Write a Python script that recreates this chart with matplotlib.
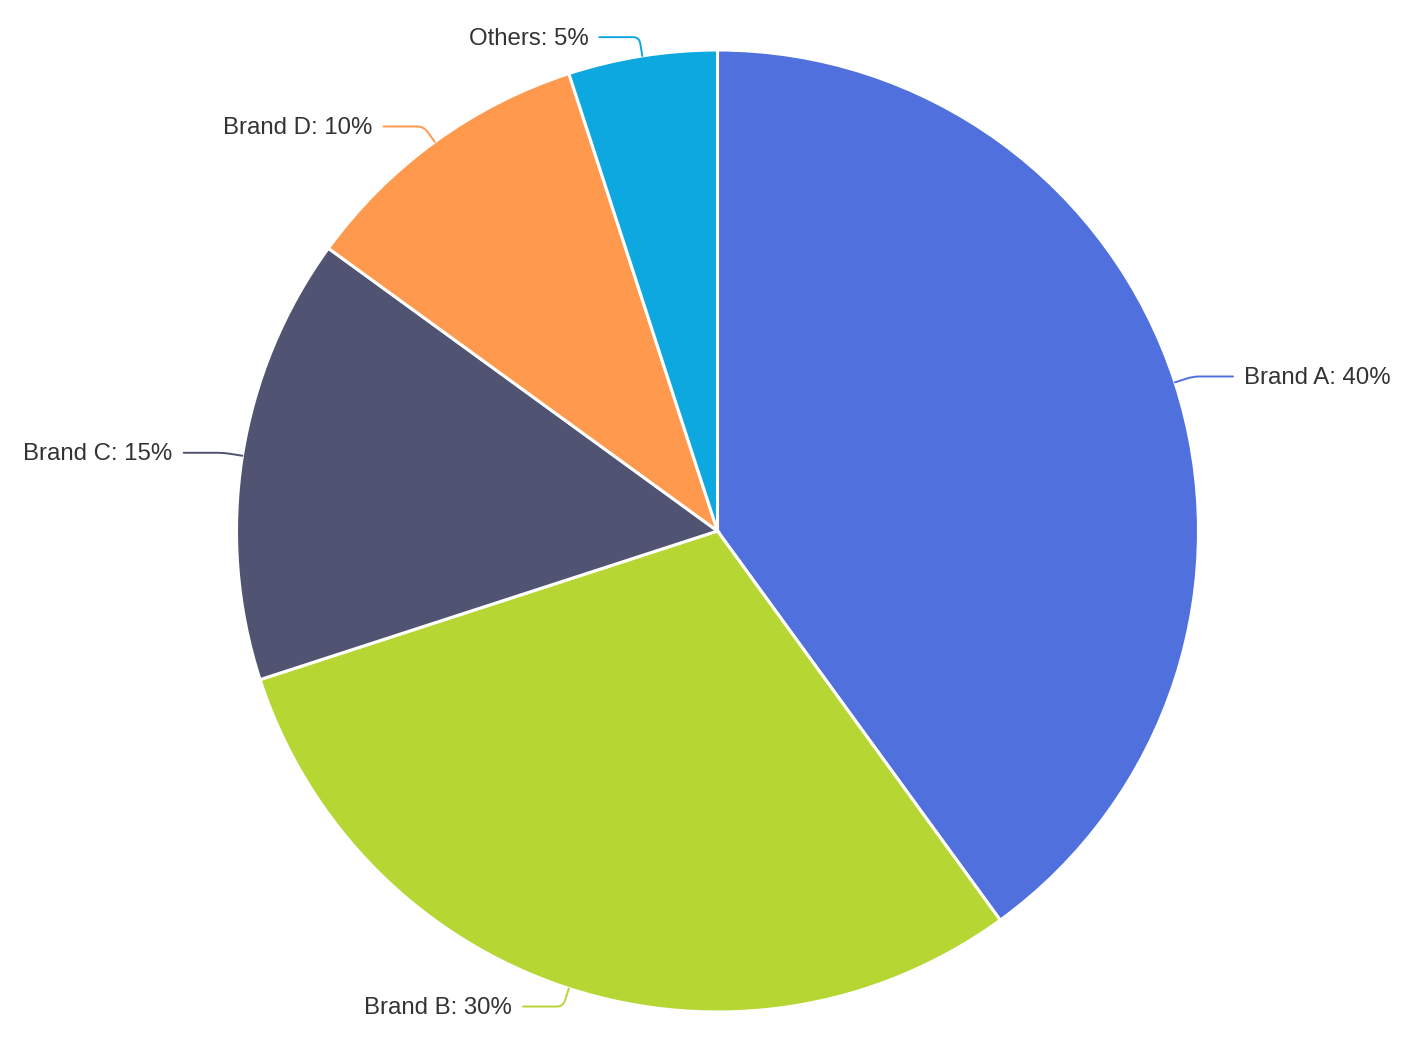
import numpy as np
import matplotlib.pyplot as plt
from matplotlib.path import Path
from matplotlib.patches import PathPatch

brands = ["Brand A", "Brand B", "Brand C", "Brand D", "Others"]
shares = [40, 30, 15, 10, 5]
colors = ["#5070dd", "#b6d634", "#505372", "#ff994d", "#0ca8df"]

W, H = 1418, 1041
fig = plt.figure(figsize=(W / 100, H / 100), dpi=100)
ax = fig.add_axes([0, 0, 1, 1])

cx, cy, r = 717.5, H - 531, 481
wedges, _ = ax.pie(shares, colors=colors, startangle=90, counterclock=False,
                   center=(cx, cy), radius=r, frame=True,
                   wedgeprops=dict(edgecolor="white", linewidth=2.2))
ax.set_xlim(0, W)
ax.set_ylim(0, H)
ax.set_aspect("equal")
ax.axis("off")

# leader lines + labels, echarts-ish
len1, len2, gap = 19, 40, 11
for w, name, val, col in zip(wedges, brands, shares, colors):
    mid = np.deg2rad((w.theta1 + w.theta2) / 2)
    dx, dy = np.cos(mid), np.sin(mid)
    p0 = (cx + r * dx, cy + r * dy)
    p1 = (cx + (r + len1) * dx, cy + (r + len1) * dy)
    s = 1 if dx >= 0 else -1
    p2 = (p1[0] + s * len2, p1[1])
    # small rounded elbow
    t = 0.35
    a = (p1[0] - (p1[0] - p0[0]) * t, p1[1] - (p1[1] - p0[1]) * t)
    b = (p1[0] + s * len2 * 0.15, p1[1])
    path = Path([p0, a, p1, b, p2],
                [Path.MOVETO, Path.LINETO, Path.CURVE3, Path.CURVE3, Path.LINETO])
    ax.add_patch(PathPatch(path, fill=False, edgecolor=col, linewidth=1.4,
                           capstyle="round"))
    ax.text(p2[0] + s * gap, p2[1] + 1, f"{name}: {val}%",
            ha="left" if s > 0 else "right", va="center_baseline",
            fontsize=17.3, color="#333333", family="Liberation Sans")

fig.savefig("out.png", dpi=100)
